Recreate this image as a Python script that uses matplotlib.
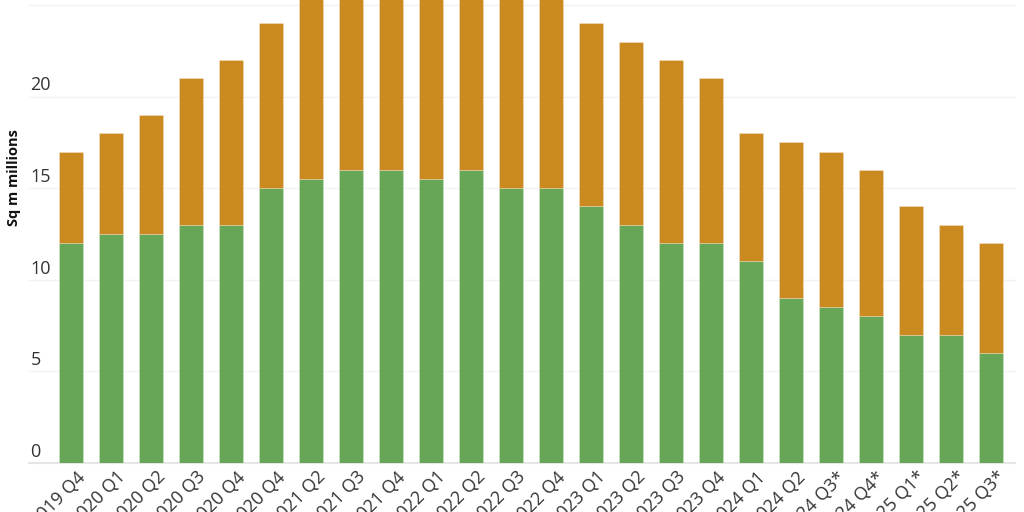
import matplotlib.pyplot as plt
from matplotlib.transforms import offset_copy

plt.rcParams["font.family"] = ["Open Sans", "DejaVu Sans"]

QUARTERS = [
    "2019 Q4", "2020 Q1", "2020 Q2", "2020 Q3", "2020 Q4", "2020 Q4",
    "2021 Q2", "2021 Q3", "2021 Q4", "2022 Q1", "2022 Q2", "2022 Q3",
    "2022 Q4", "2023 Q1", "2023 Q2", "2023 Q3", "2023 Q4", "2024 Q1",
    "2024 Q2", "2024 Q3*", "2024 Q4*", "2025 Q1*", "2025 Q2*", "2025 Q3*",
]
GREEN_VALUES = [
    12.0, 12.5, 12.5, 13.0, 13.0, 15.0,
    15.5, 16.0, 16.0, 15.5, 16.0, 15.0,
    15.0, 14.0, 13.0, 12.0, 12.0, 11.0,
    9.0, 8.5, 8.0, 7.0, 7.0, 6.0,
]
TOTAL_VALUES = [
    17.0, 18.0, 19.0, 21.0, 22.0, 24.0,
    26.5, 27.0, 27.0, 27.0, 27.0, 26.5,
    26.0, 24.0, 23.0, 22.0, 21.0, 18.0,
    17.5, 17.0, 16.0, 14.0, 13.0, 12.0,
]
ORANGE_VALUES = [t - g for t, g in zip(TOTAL_VALUES, GREEN_VALUES)]
Y_TICKS = [0, 5, 10, 15, 20, 25]

GREEN = "#67a657"
ORANGE = "#cb8a20"
TEXT = "#333333"


def main() -> None:
    fig = plt.figure(figsize=(10.24, 5.12), dpi=100)
    ax = fig.add_axes([29 / 1024, 1 - 463 / 512, (1015 - 29) / 1024, 463 / 512])

    x = list(range(len(QUARTERS)))
    ax.bar(x, GREEN_VALUES, width=0.6, color=GREEN, edgecolor=(1, 1, 1, 0.35),
           linewidth=0.5, zorder=3)
    ax.bar(x, ORANGE_VALUES, bottom=GREEN_VALUES, width=0.6, color=ORANGE,
           edgecolor=(1, 1, 1, 0.35), linewidth=0.5, zorder=3)

    ax.set_xlim(-1.05, 23.6)
    ax.set_ylim(0, 25.27)

    for tick in Y_TICKS:
        ax.axhline(tick, color="#f2f2f2" if tick else "#e6e6e6",
                   linewidth=1.0 if tick else 1.5, zorder=1, clip_on=False)
        ax.annotate(str(tick), (0, tick), xycoords=("axes fraction", "data"),
                    xytext=(1, 1.5), textcoords="offset points", ha="left",
                    va="bottom", fontsize=13, color=TEXT)

    label_trans = offset_copy(ax.get_xaxis_transform(), fig=fig, x=5, y=-5,
                              units="dots")
    for pos, label in zip(x, QUARTERS):
        ax.text(pos, 0, label, transform=label_trans, rotation=45,
                rotation_mode="anchor", ha="right", va="top", fontsize=13,
                color=TEXT, clip_on=False)

    fig.text(14 / 1024, 1 - 178 / 512, "Sq m millions", rotation=90,
             ha="center", va="center", fontsize=10.5, fontweight="bold",
             color="#111111")

    ax.set_xticks([])
    ax.set_yticks([])
    for spine in ax.spines.values():
        spine.set_visible(False)

    fig.savefig("out.png", dpi=100)


if __name__ == "__main__":
    main()
